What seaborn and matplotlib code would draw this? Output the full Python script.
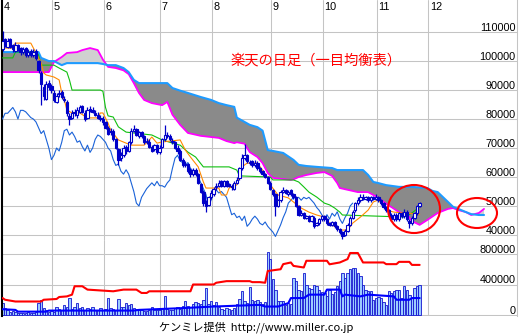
import numpy as np
import pandas as pd
import matplotlib
matplotlib.use("Agg")
import matplotlib.pyplot as plt
import matplotlib.transforms as mtransforms
from matplotlib.patches import Ellipse
import seaborn as sns

# ---------------- data (prices in thousand yen, volume in thousand shares) ----------------
opens_k = [104,107.5,105,107.5,105.5,103.5,105.5,104.5,103,104.5,102,103.5,102,103.5,100,96,91,87,92.5,91.5,
           89,86,88.5,89.5,87,86,81,80.5,82.5,81.5,82.5,84.5,82,80.5,83.5,83,82,81.5,80.5,80,
           79,77,75.5,76,73,69.5,66.5,67.5,70.5,69,72,76,76.5,74,75.5,74,72,72,70.5,69.5,71,68.5,
           70.5,73,74.5,74,72.5,72,70,69,66,64,64.5,62.5,61,62.5,61,57.5,55,51,50.5,53,
           54,56.5,57,58.5,57,58.5,57.5,57,56,58,59.5,63,66.5,67.5,65,65.5,64,65,63,62,61,60,58,
           55.5,54,50,52,55,55.5,54,55.5,54,53,50,47,47.5,46,46.5,45,46,43.5,44,45.5,
           46.5,45.5,44,43.5,44.5,43,42,41,40,41.5,43.5,46,48.5,51,52,53,52.5,53,52,53,52.5,
           53,52,51,49.5,48.5,47,45.5,47,45.5,47.5,46.5,48,45,44,46,47.5,50]
close_k = [107,105.5,107,105,104,105.5,104,103,104,102,103,102,103,101,97,92,88,92,91,90,
           86.5,88,89,87.5,86.5,82,80,82,82,83,84,82.5,80,83,83,82.5,81.5,80.5,80,79,
           77,75,76,73,70,66,67.5,70,69,72,76,76.5,74.5,75.5,74,72,72.5,70.5,69,71,68.5,70,
           73,74.5,74,73,72,70,69,66,64,64.5,62,61,62.5,61,58,55,51,50,53,54.5,
           56,57,58,57,58.5,57,57,56.5,58,59,63,66.5,67.5,65.5,65,64,65,63,62,61,60,58,56,
           54,50,52,55,55.5,54.5,55,54,53,50,47,47.5,46,46.5,45,46.5,43,44,45.5,46.5,
           45.5,44,43.5,44.5,43,42,41,39.5,41.5,43.5,46,48,51,52,53,52.5,53,52,53,52.5,53,
           52,51,49.5,48.5,47,45.5,47,45.5,47.5,46.5,48,45.5,44,46,47.5,50,51]
high_k = [110.5,108,108,108,106,106.5,106,105,105,105,104,104,104,104,100.5,96.5,92,93,93.5,92,
          90,89,90,90,88,86.5,82,83,83.5,84,85,85,83,84,84.5,84,83,82.5,81.5,81,
          79.5,77.5,77,76.5,73.5,70,68.5,71,71,72.5,77,78,77,76,76,74.5,73.5,73,71,71.5,71.5,71,
          73.5,78,75.5,75,73.5,72.5,71,69.5,66.5,65.5,65,63,63,63,61.5,58,55.5,52,53.5,55.5,
          56.5,58,59,59,59,59,58,57.5,58.5,60,63.5,68,71.5,68,66,66,66,65.5,63.5,62.5,61.5,60.5,58.5,
          56,54.5,52.5,55.5,56.5,56,55.5,56,54.5,53.5,50.5,48.5,48,47,47,47,46.5,44.5,46,47,
          47,46,44.5,45,45,43.5,42.5,41.5,42,44,46.5,48.5,51.5,53,54,54,53.5,53.5,53.5,53.5,54,
          53.5,52.5,51.5,50,49,47.5,47.5,47.5,48,48,49,48.5,45.5,46.5,48,50.5,51.5]
low_k = [103.5,105,104.5,104.5,103,103,103.5,102,102.5,101.5,101.5,101.5,101.5,100.5,96,85,86.5,86.5,90,89,
         86,85.5,87.5,87,86,81,78,80,81,80.5,82,82,79.5,80,82.5,82,81,80,79.5,78,
         76.5,74.5,74.5,72.5,69.5,64,65.5,67,68,68.5,71.5,75.5,74,73.5,73.5,71.5,71.5,70,68.5,69,68,68,
         70,72.5,73.5,72.5,71.5,69.5,68,65.5,63.5,63.5,61.5,60,60.5,60.5,57.5,54.5,50,48,50,52.5,
         53.5,55.5,56.5,56.5,56.5,56.5,56.5,55.5,55.5,57.5,59,62.5,66,65,64,63.5,63.5,62.5,61.5,60.5,59.5,57.5,55.5,
         53.5,46.5,49.5,51.5,54.5,54,53.5,53.5,52.5,49.5,46.5,46.5,45.5,45.5,44.5,44.5,42.5,43,43.5,45,
         45,43.5,43,43,42.5,41.5,40.5,38.5,39.5,41,43,45.5,48,50.5,51.5,52,52,51.5,51.5,52,52,
         51.5,50.5,49,48,46.5,45,45,45,45,46,46,45,42.5,43.5,45.5,47,49.5]
volume_k = [160,90,60,40,50,35,30,25,30,25,35,30,25,40,160,200,90,60,45,50,
            40,110,80,70,130,100,222,80,100,155,90,100,70,90,80,100,70,60,90,60,
            80,222,90,80,70,210,100,110,155,130,140,90,80,70,60,55,50,60,100,70,60,70,
            90,250,80,60,70,90,100,80,120,180,120,110,140,170,160,150,200,355,150,180,
            130,170,100,80,70,90,80,60,90,140,210,310,180,160,365,200,180,200,165,150,170,827,733,
            467,333,178,180,190,130,160,140,489,444,333,310,556,400,356,340,400,378,333,300,
            289,244,333,280,300,378,440,556,489,556,600,622,622,556,511,400,333,311,320,200,222,
            230,222,170,133,311,289,320,333,330,222,378,330,260,222,356,378,390]

# conversion line (orange) and base line (green), read at their vertices
tenkan_days = [0,4,5,11,12,13,15,16,17,20,22,23,24,25,27,30,33,37,38,39,41,42,45,48,50,55,57,58,60,62,
               69,71,73,76,78,79,84,85,87,88,91,93,95,99,101,103,104,107,111,113,116,119,122,125,127,
               131,134,136,139,142,144,146,149,152,156,162]
tenkan_k = [104.5,104.5,106.2,106.2,104.5,102.8,99.3,95.9,95.2,94.5,93.5,89,86.6,83.1,82.1,82.1,80.4,80.4,82.1,82.1,
            78.6,76.2,72.8,71.7,71,71,72.8,73.8,71.7,72.1,
            72.8,69.3,66.9,63.5,58.3,56.2,56.2,53.8,53.8,56.2,57.3,63.5,64.8,64.8,62.4,59.7,57.3,53.8,52.8,51.4,
            49.3,47.9,46.9,46.2,44.1,41.7,41.7,44.1,46.2,48.6,51.4,52.1,48.6,47.9,47.6,47.2]
kijun_days = [0,4,5,13,14,15,20,22,25,26,27,38,39,40,41,43,45,48,58,62,66,69,72,75,78,88,91,92,104,105,
              113,115,117,119,122,125,127,129,131,132,156,159,162]
kijun_k = [101.1,101.1,103.1,103.1,102.1,98.6,98.6,97.6,96.2,93.5,90,90,89.6,84,81.1,80.7,77.3,75.5,74.5,72.8,
           71.7,71,68.6,66.9,63.5,63.5,62.4,60.4,60,59,59,58.3,56.6,54.8,53.1,51,50.4,49.3,47.9,46.9,46.2,47.6,49.7]

# leading spans (cloud), read at shared days
cloud_days = [0,14,15,18,20,23,25,29,31,34,37,39,41,44,47,49,51,53,55,58,62,64,66,69,72,77,81,84,87,90,
              91,94,96,99,101,103,105,109,112,113,115,118,122,125,128,130,131,138,140,142,144,146,149,154,
              157,159,162,165,167,169,171,173,175,177,180,182,185,187]
span_blue_k = [103.1,103.1,101.1,100,100,98.6,99.3,99.3,99.3,99.3,99.3,99,98.6,98.6,97.6,96.2,93.5,92.4,92.4,92.4,
               92.4,92.4,90.7,89.8,89,87.6,86.6,85.5,84.8,84.2,80.5,79,78,77.2,76,69.3,69,68.3,66.5,65.9,
               64.2,63.8,63.5,63.3,63.1,62.4,62.4,62.4,62.4,60.7,58.3,57.9,57.2,56.6,56.6,56.6,56.4,56.2,55.2,54.8,
               53.1,51.4,49.7,49,47.9,47.2,46.9,46.9]
span_mag_k = [96.2,96.2,96.2,96.2,99.7,101.4,102.8,103.1,103.8,104.5,103.8,100.5,98,97.6,96.8,95.5,92.4,89,86.6,85.5,
              84.8,85.9,81.5,78,75.2,74.2,73.8,73.5,72.4,71.7,72,71.5,68.6,66.9,64.8,61.4,59.7,59.3,59,59.2,
              60,60.7,61.4,61.7,60.4,57.9,56.2,54.8,54.8,54.8,53.8,52.8,50.8,47.9,47.2,44.8,43.5,45.2,46.4,47.6,
              48.3,49,49.3,48.6,47.9,46.9,47.6,49]

# volume lines (red and blue), read at their vertices
red_days = [0,1,5,15,16,21,22,25,27,28,31,33,43,47,52,54,56,57,73,74,82,83,87,96,97,100,102,103,108,109,
            112,113,117,118,126,127,131,134,135,138,140,148,149,153,154,158,159,162]
red_k = [223,200,177,177,200,210,236,244,267,377,377,333,311,333,333,289,289,311,311,400,400,423,444,444,431,431,423,577,600,667,
         689,644,623,711,711,665,689,733,813,813,689,689,667,667,697,697,657,657]
bma_days = [0,5,6,17,18,51,53,69,82,100,102,107,111,112,117,119,125,126,131,132,133,139,142,152,153,158,159,162]
bma_k = [76,67,44,44,58,58,67,89,111,133,111,111,156,222,222,267,267,333,333,244,267,244,267,244,200,200,222,222]

month_labels = ["4", "5", "6", "7", "8", "9", "10", "11", "12"]
month_start_days = [0, 20, 40, 62, 82, 105, 125, 146, 166]
price_ticks = [40000, 50000, 60000, 70000, 80000, 90000, 100000, 110000]
volume_ticks = [0, 400000, 800000]
title = "楽天の日足（一目均衡表）"
footer = "ケンミレ提供  http://www.miller.co.jp"

# ---------------- frames ----------------
K = 1000
days = np.arange(len(close_k))
candles = pd.DataFrame({"day": days, "open": np.array(opens_k) * K, "close": np.array(close_k) * K,
                        "high": np.array(high_k) * K, "low": np.array(low_k) * K,
                        "volume": np.array(volume_k) * K})
chikou = pd.DataFrame({"day": days[26:] - 26, "price": candles["close"].values[26:]})
tenkan = pd.DataFrame({"day": tenkan_days, "price": np.array(tenkan_k) * K})
kijun = pd.DataFrame({"day": kijun_days, "price": np.array(kijun_k) * K})
cd = np.array(cloud_days, dtype=float)
sb = np.array(span_blue_k) * K
sm = np.array(span_mag_k) * K
red = pd.DataFrame({"day": red_days, "v": np.array(red_k) * K})
bma = pd.DataFrame({"day": bma_days, "v": np.array(bma_k) * K})

# ---------------- style ----------------
sns.set_style("white")
plt.rcParams['font.family'] = ['Liberation Sans', 'DejaVu Sans']

W, H = 519, 336
fig = plt.figure(figsize=(W / 100, H / 100), dpi=100, facecolor="white")
L, R = 2 / W, 517 / W
ax = fig.add_axes([L, 1 - 240 / H, R - L, 240 / H])
axv = fig.add_axes([L, 1 - 316 / H, R - L, 76 / H])

XMIN, XMAX = (2 - 2.5) / 2.575, (517 - 2.5) / 2.575
PX_P = 345.0       # yen per pixel in price panel
PX_V = 13115.0     # shares per pixel in volume panel
ax.set_xlim(XMIN, XMAX)
axv.set_xlim(XMIN, XMAX)
ax.set_ylim(40000 - 5 * PX_P, 40000 + 235 * PX_P)
axv.set_ylim(-1 * PX_V, 75 * PX_V)

GRID = "#c4c4c4"
for a in (ax, axv):
    a.set_xticks([]); a.set_yticks([])
    for s in ("top", "bottom"):
        a.spines[s].set_visible(False)
    a.spines["left"].set_color("black"); a.spines["left"].set_linewidth(1.5)
    a.spines["right"].set_color(GRID); a.spines["right"].set_linewidth(0.75)
    a.set_facecolor("none")
    for m in month_start_days[1:]:
        a.axvline(m - 0.7, color=GRID, lw=0.75, zorder=0)

for v in price_ticks:
    ax.axhline(v, color=GRID, lw=0.75, zorder=0)
for v in volume_ticks:
    axv.axhline(v, color=GRID, lw=0.75, zorder=0)

# ---------------- cloud ----------------
ax.fill_between(cd, sb, sm, where=sb >= sm, interpolate=True, facecolor="#8a8a8a",
                edgecolor="none", lw=0, zorder=1)
ax.fill_between(cd, sb, sm, where=sb < sm, interpolate=True, facecolor="#d0d0d0",
                edgecolor="none", lw=0, zorder=1)
sns.lineplot(x=cd, y=sm, ax=ax, color="#ff00ff", lw=1.3, estimator=None, sort=False, zorder=2)
sns.lineplot(x=cd, y=sb, ax=ax, color="#1e9bff", lw=1.5, estimator=None, sort=False, zorder=2)

# ---------------- lines ----------------
sns.lineplot(data=chikou, x="day", y="price", ax=ax, color="#1a62d8", lw=0.8,
             estimator=None, sort=False, zorder=3)
sns.lineplot(data=kijun, x="day", y="price", ax=ax, color="#10c010", lw=0.8,
             estimator=None, sort=False, zorder=3)
sns.lineplot(data=tenkan, x="day", y="price", ax=ax, color="#ff8a00", lw=0.8,
             estimator=None, sort=False, zorder=3)

# ---------------- candles ----------------
BLUE = "#0000c8"
o, c = candles["open"].values, candles["close"].values
up = c >= o
ax.vlines(candles["day"], candles["low"], candles["high"], color=BLUE, lw=0.9, zorder=4)
ax.bar(candles["day"], np.maximum(np.abs(c - o), 300), bottom=np.minimum(o, c), width=0.9,
       color=np.where(up, "white", BLUE), edgecolor=BLUE, lw=0.8, zorder=5)

# ---------------- volume ----------------
axv.bar(candles["day"], candles["volume"], width=0.9, color="#9ccbff",
        edgecolor="#1414d0", lw=0.6, zorder=2)
sns.lineplot(data=red, x="day", y="v", ax=axv, color="#ff0000", lw=1.5,
             estimator=None, sort=False, zorder=3)
sns.lineplot(data=bma, x="day", y="v", ax=axv, color="#0000ff", lw=1.5,
             estimator=None, sort=False, zorder=3)

for a in (ax, axv):
    a.set_xlabel(""); a.set_ylabel("")
    if a.get_legend() is not None:
        a.get_legend().remove()

# ---------------- labels ----------------
tr = mtransforms.blended_transform_factory(ax.transData, ax.transAxes)
for lab, m in zip(month_labels, month_start_days):
    xpos = 0.3 if m == 0 else m - 0.1
    ax.text(xpos, 1 - 2 / 240, lab, transform=tr, ha="left", va="top", fontsize=7.8, color="black")

trp = mtransforms.blended_transform_factory(ax.transAxes, ax.transData)
for v in price_ticks:
    ax.text(1 - 1.5 / 515, v + 1.5 * PX_P, str(v), transform=trp, ha="right", va="baseline",
            fontsize=7.8, color="black")
trv = mtransforms.blended_transform_factory(axv.transAxes, axv.transData)
for v in volume_ticks:
    axv.text(1 - 1.5 / 515, v + 1.5 * PX_V, str(v), transform=trv, ha="right", va="baseline",
             fontsize=7.8, color="black", clip_on=False)

ax.text((316 - 2.5) / 2.575, 40000 + (235 - 60) * PX_P, title, ha="center", va="center",
        fontsize=10.3, color="#ff0000", family=["Noto Sans CJK JP", "DejaVu Sans"])
fig.text(256 / W, 1 - 327 / H, footer, ha="center", va="center", fontsize=8,
         color="black", family=["Noto Sans CJK JP", "DejaVu Sans"])

# ---------------- red circles ----------------
ax.add_patch(Ellipse(((414 - 2.5) / 2.575, 40000 + (235 - 209) * PX_P), 52 / 2.575, 48 * PX_P,
                     fill=False, edgecolor="#ff0000", lw=1.5, zorder=6, clip_on=False))
ax.add_patch(Ellipse(((477 - 2.5) / 2.575, 40000 + (235 - 213) * PX_P), 40 / 2.575, 30 * PX_P,
                     fill=False, edgecolor="#ff0000", lw=1.5, zorder=6, clip_on=False))

fig.savefig("out.png", dpi=100, facecolor="white")
